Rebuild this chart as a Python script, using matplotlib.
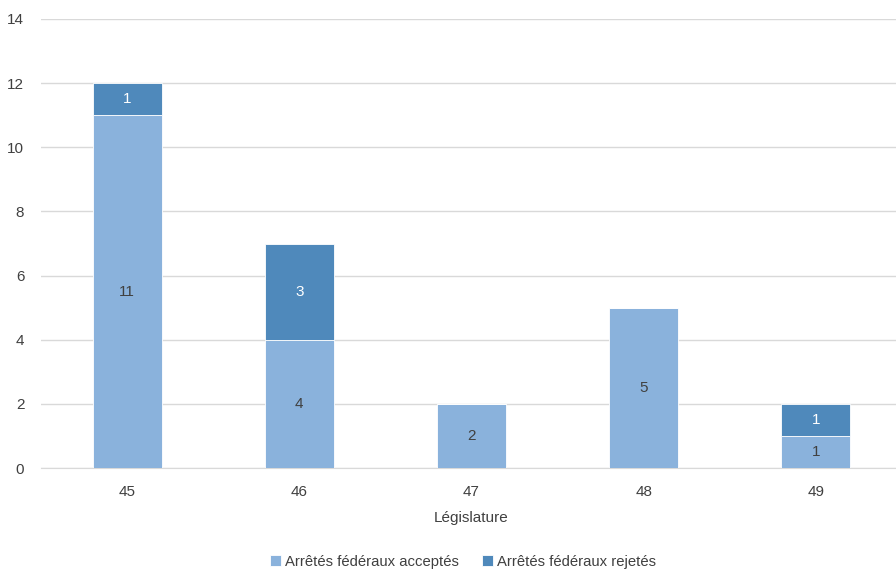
import matplotlib.pyplot as plt
import numpy as np

# data
Legislatures = ["45", "46", "47", "48", "49"]
Acceptes = [11, 4, 2, 5, 1]
Rejetes = [1, 3, 0, 0, 1]

ColAcc = "#8AB2DC"
ColRej = "#4F89BB"
TextCol = "#404040"

plt.rcParams['font.family'] = ['Liberation Sans', 'DejaVu Sans']

fig = plt.figure(figsize=(8.96, 5.72), dpi=100)
ax = fig.add_axes([41/896, 1-468/572, 861/896, (468-19)/572])

x = np.arange(len(Legislatures))
w = 0.4
ax.bar(x, Acceptes, w, color=ColAcc, edgecolor="white", linewidth=0.6, label="Arrêtés fédéraux acceptés", zorder=3)
ax.bar(x, Rejetes, w, bottom=Acceptes, color=ColRej, edgecolor="white", linewidth=0.6, label="Arrêtés fédéraux rejetés", zorder=3)

# value labels
for i in range(len(x)):
    if Acceptes[i] > 0:
        ax.text(x[i], Acceptes[i]/2, str(Acceptes[i]), ha="center", va="center", fontsize=11, color=TextCol, zorder=4)
    if Rejetes[i] > 0:
        ax.text(x[i], Acceptes[i] + Rejetes[i]/2, str(Rejetes[i]), ha="center", va="center", fontsize=11, color="white", zorder=4)

ax.set_xlim(-0.5, 4.5)
ax.set_ylim(0, 14)
ax.set_yticks(range(0, 15, 2))
ax.set_xticks(x)
ax.set_xticklabels(Legislatures)
ax.yaxis.grid(True, color="#D9D9D9", linewidth=1, zorder=0)
ax.set_axisbelow(True)
for s in ["top", "right", "left"]:
    ax.spines[s].set_visible(False)
ax.spines["bottom"].set_color("#D9D9D9")
ax.tick_params(axis="both", length=0, labelsize=11, colors=TextCol)
ax.tick_params(axis="y", pad=12)
ax.tick_params(axis="x", pad=12)
ax.set_xlabel("Législature", fontsize=11, color=TextCol, labelpad=9)

fig.legend(loc="lower center", bbox_to_anchor=(463/896, -0.018), ncol=2, frameon=False,
           fontsize=10.7, handlelength=0.75, handleheight=0.75, handletextpad=0.25, columnspacing=1.6,
           labelcolor=TextCol)

fig.savefig("out.png", dpi=100)
